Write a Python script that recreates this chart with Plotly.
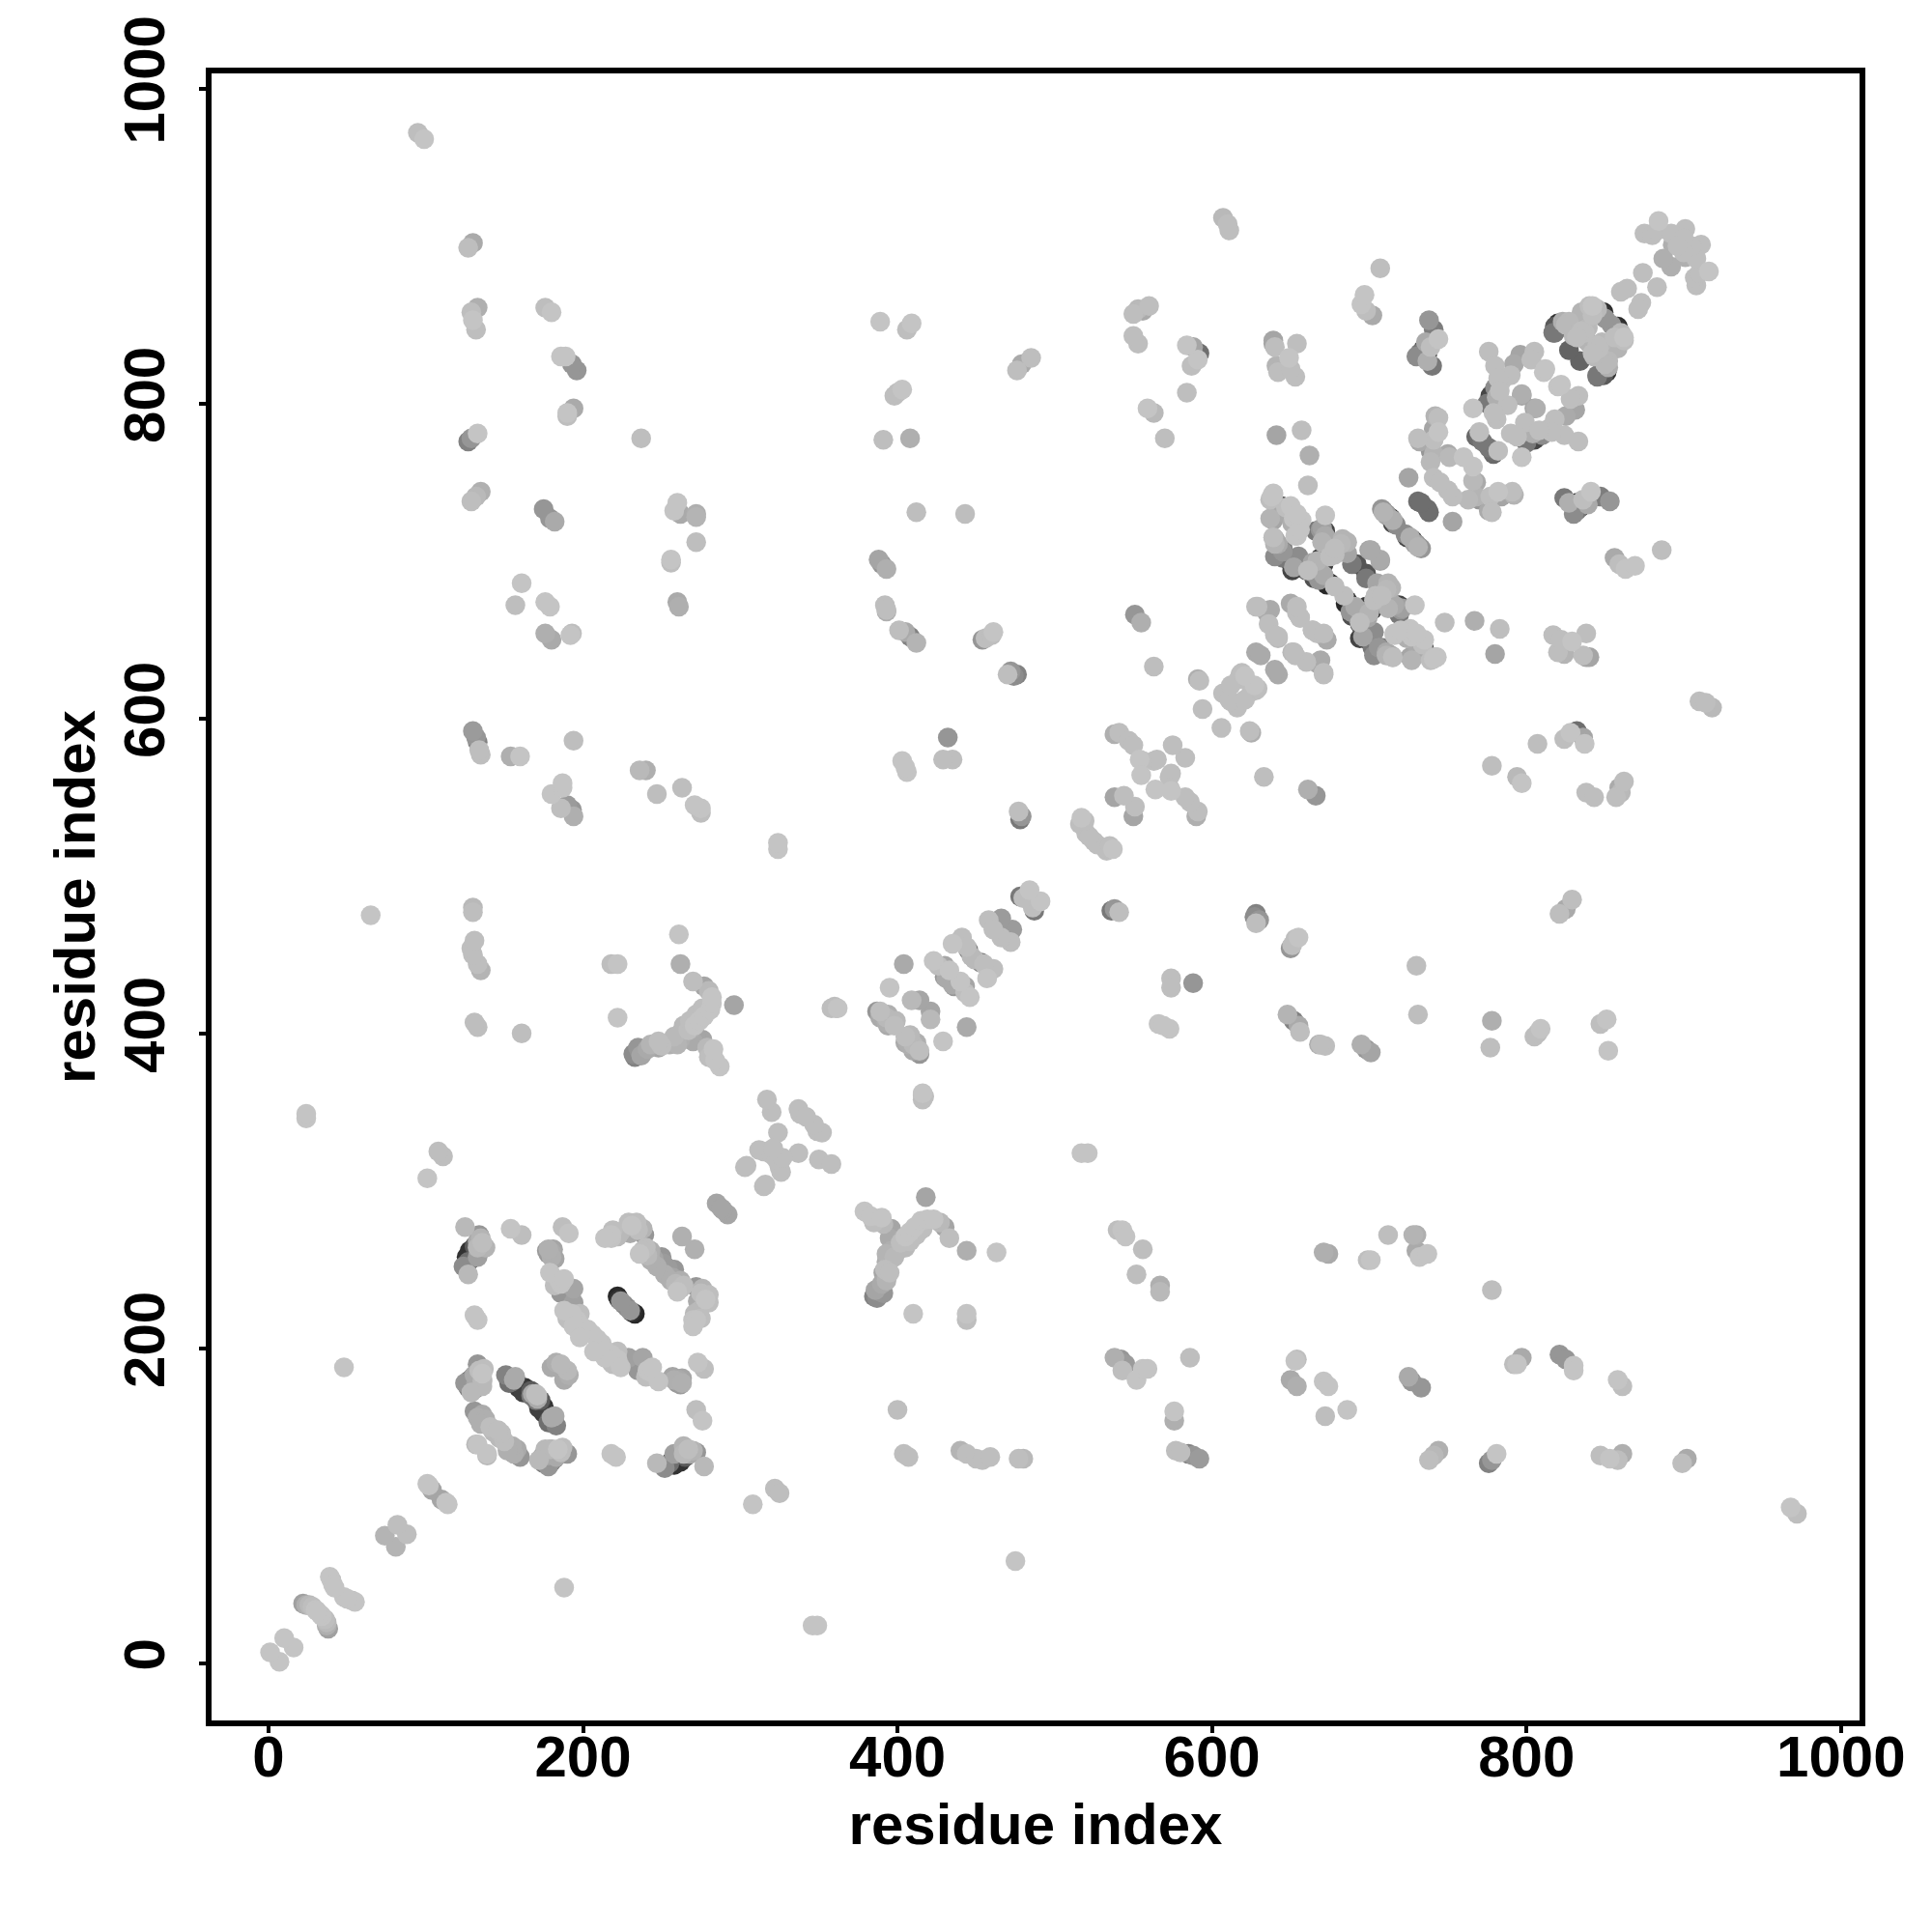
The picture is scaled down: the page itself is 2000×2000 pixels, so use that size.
import plotly.graph_objects as go

tick_values = [0, 200, 400, 600, 800, 1000]
axis_label = "residue index"

# (residue i, residue j, score); the map is symmetric, one half is stored
low_diagonal = [(7,1,196),(16,10,196),(38,22,160),(37,24,175),(37,26,185),(36,28,190),(34,30,196),(33,31,196),
 (55,39,196),(53,40,190),(50,41,196),(48,42,196),(81,74,180),(88,82,190),(114,101,196),(113,102,196),(110,104,165)]
block_130_290 = [(139,132,185),(139,133,196),(160,131,150),(156,133,175),(155,138,175),(150,141,190),(147,144,185),
 (175,127,120),(176,128,100),(177,130,130),(178,132,165),(179,136,185),(184,136,196),(186,134,190),(190,133,150),
 (180,153,100),(179,155,110),(178,158,50),(176,160,55),(175,163,50),(173,167,90),(180,156,170),(171,170,190),
 (191,183,175),(188,180,170),(190,186,185),(218,133,196),(221,131,196),
 (247,127,185),(254,126,40),(255,127,110),(256,128,35),(259,130,40),(262,134,60),(267,136,190),(272,134,150),(277,125,185),(264,133,185),
 (233,222,40),(230,224,150),(231,223,50),(226,228,140),
 (219,190,190),(218,196,196),(212,203,196),(209,206,196),(214,199,196),(218,191,190),
 (232,192,145),(236,190,140),(241,186,196),(243,185,196),(248,179,196),
 (258,180,175),(262,177,155),(273,191,196),(277,187,190),(272,161,190),(276,154,196),
 (271,263,176),(263,178,176),(261,180,170),
 (260,236,196),(259,241,185),(257,245,165),(256,248,150),(254,251,155),
 (278,231,196),(275,235,190),(272,239,150),(277,234,170),(274,224,185),(272,218,196),(270,214,196),
 (292,285,165),(289,288,165)]
block_thick = [(262,128,50),(265,131,90),(268,133,170),(270,135,180),(258,126,50),(252,124,140),(258,133,160),(264,138,180),
 (180,128,110),(182,130,140),(180,136,175),(176,136,185),(174,131,150),(183,131,170),(187,137,190),(172,129,185),(178,125,150),
 (175,159,60),(172,162,65),(170,167,120),(178,153,110),(182,157,170),(183,151,130),(168,171,170),
 (148,146,190),(143,147,185),(152,135,175),(158,136,170),
 (222,193,196),(224,188,196),(214,194,196),(207,198,196),(222,198,190),
 (238,194,165),(244,188,196),(240,182,190),(235,186,150),(229,194,160),
 (262,243,175),(264,240,190),(258,250,150),(252,247,175),(256,243,175),(262,238,190),
 (280,229,190),(276,238,180),(273,230,170),(280,234,190),(271,222,185),(275,219,190),(270,218,195),
 (260,178,150),(257,182,165),(263,181,165)]
far_low = [(188,48,196),(308,101,196),(322,111,190),(325,108,190),(346,24,196),(349,24,196),(475,65,196)]
diag_300 = [(349,338,190),(350,320,190),(358,317,190),(337,324,190),(325,315,190),(326,312,190),(315,303,190),
 (320,323,190),(327,321,190),(316,304,190),(352,337,190),(347,342,190)]
y_shape = [(379,287,196),(383,284,196),(386,282,190),(391,279,185),(396,276,165),(400,267,160),(396,262,175),(393,260,180),
 (393,255,175),(392,250,190),(391,248,165),(390,241,170),(389,236,150),(387,232,140),(403,269,175),(402,267,190),
 (405,271,196),(408,274,196),(411,277,196),(415,281,196),(419,282,196),(423,282,196),(427,280,185),(430,277,165),(433,270,190),
 (418,296,165),(444,262,175),(463,261,196),
 (385,280,190),(390,283,196),(395,270,170),(398,272,165),(400,262,170),(405,264,185),(408,268,190),(412,272,190),(416,276,190),
 (395,256,170),(398,258,185),(395,248,190),(393,243,180),(386,237,165),(391,235,150),(385,233,130)]
row_130 = [(410,222,196),(444,222,196),(444,218,190),(400,161,190),(404,133,190),(407,131,190),(440,135,180),(444,133,190),
 (450,130,190),(454,129,190),(459,131,190),(477,130,190),(480,130,185),
 (540,275,190),(543,275,196),(545,271,196),(556,263,190),(552,247,190),(567,240,175),(567,236,185),(671,261,175),(674,260,170),
 (538,194,175),(542,193,150),(545,190,155),(543,186,190),(552,180,196),(556,187,196),(559,187,196),(586,194,190),
 (576,160,196),(576,154,175),(577,135,190),(580,134,190),(585,133,130),(588,132,150),(592,130,155),
 (654,193,190),(653,192,196),(650,180,170),(654,176,175),(671,179,196),(674,176,196),(672,157,190),(686,161,196)]
right_low = [(712,272,190),(728,272,180),(730,272,175),(730,262,170),(732,258,196),(737,260,196),(699,256,190),(701,256,196),
 (778,237,190),(725,182,170),(727,179,150),(733,175,150),(797,194,170),(794,190,196),(792,190,190),
 (821,196,150),(825,193,150),(830,189,196),(830,186,196),(858,180,196),(861,176,190),
 (738,129,190),(741,132,185),(744,135,176),(776,127,130),(778,129,150),(781,133,196),
 (847,132,190),(853,130,196),(858,129,190),(861,133,175),(899,127,190),(902,130,170),(968,99,196),(972,95,190)]
mid_field = [(627,474,140),(630,472,150),(628,470,190),(628,476,130),(651,456,190),(653,460,190),(655,461,196),(650,454,150),
 (574,435,190),(574,429,190),(588,432,150),(566,406,196),(573,403,196),(569,405,196),
 (648,412,180),(652,408,130),(655,405,170),(656,401,190),(668,393,175),(672,392,190),(669,393,190),
 (517,324,196),(521,324,196),(416,361,190),(417,360,190),(362,416,196),(358,416,190),
 (536,478,120),(538,479,150),(541,477,190),
 (698,390,150),(695,393,175),(701,388,165),(730,443,190),(731,412,190),(778,408,175),(777,391,190),
 (809,403,196),(805,398,190),(807,400,190),(851,409,196),(847,406,190),(852,389,196),
 (829,485,190),(825,479,170),(821,476,190)]
diag_400 = [(414,389,190),(410,393,185),(405,398,190),(411,392,160),(414,387,150),(412,394,175),(408,399,185),(405,394,170),(410,389,170),(407,393,175),
 (421,414,165),(421,409,185),(429,395,196),(444,404,170),
 (446,423,196),(443,426,190),(440,433,196),(436,430,150),(443,430,165),(435,431,170),
 (461,441,190),(457,435,196),(453,445,120),(455,444,190),(449,447,185),
 (473,466,155),(472,458,190),(466,461,190),(491,484,196),(487,478,120),(486,480,190)]
diag_500 = [(527,520,190),(533,516,190),(537,517,196),(532,518,190),(525,522,190),(535,519,190),
 (591,541,190),(590,538,175),(586,547,190),(583,550,190),(574,554,196),(573,563,190),(583,575,190),(564,555,196),
 (551,544,190),(550,538,165),(574,565,190),(573,556,190),
 (628,618,190),(625,617,190),(616,607,190),(612,611,190),(606,594,190),(625,591,175),(621,612,190),(627,621,196),(624,592,190),(633,563,190),
 (666,551,150),(661,555,175)]
upper_field = [(778,570,190),(794,563,185),(797,559,196),(807,584,190),(824,587,190),(828,591,196),(832,592,110),(836,588,165),(837,584,196),
 (838,553,190),(843,550,190),(857,550,190),(860,553,185),(862,560,190),(859,556,170),(910,611,190),(914,610,190),(918,607,185),
 (780,641,165),(820,642,190),(824,641,180),(838,639,165),(840,639,165),(836,640,190),(817,653,190),(822,650,190),(829,649,196),(838,654,190),
 (783,657,190),(767,662,175),(748,661,190),(886,707,190),(856,702,170),(859,698,190),(863,695,196),(869,697,196)]
diag_640 = [(673,650,170),(671,628,190),(667,654,190),(660,636,190),(656,664,190),(671,654,190),(651,642,185),(642,628,170),
 (653,640,190),(667,635,170),(671,629,190),(640,631,170),(629,619,190),(664,656,185),(652,642,190),(669,637,170)]
band_700 = [(743,639,196),(734,642,170),(726,639,165),(714,640,170),(706,645,110),(699,650,50),(694,660,85),(699,671,50),(685,673,40),
 (698,689,120),(705,686,165),(714,683,180),(714,673,40),(720,669,150),(729,672,196),(710,674,55),(698,671,55),(702,669,55),
 (686,675,40),(695,668,40),(698,652,70),(702,645,120),(715,639,190),(708,645,120),(726,657,196),(742,639,196),
 (741,638,196),(734,647,190),(724,651,175),(716,653,196),(703,655,140),(698,692,85),(707,700,165),(712,686,180),(712,676,170),(718,671,55),
 (727,652,196),(716,654,196),(731,709,180),(727,714,55),(723,717,140),(724,715,70),(728,713,55),(732,709,150),(707,701,170),
 (704,676,90),(689,665,80),(703,640,140),(711,640,180),(720,656,196)]
band_overlay = [(729,711,165),(733,708,150),(726,715,175),(730,711,150),(684,678,190),(704,678,190),(703,675,190),(700,667,180),(696,668,160),
 (716,672,170),(721,670,160),(694,651,68),(700,651,120),(706,645,150),(711,642,170),(715,639,170),(730,641,50),(727,637,180),(733,648,165),
 (731,644,170),(704,645,85),(696,652,165),(694,661,190),(692,665,130),(735,642,120),(735,650,196),(730,654,196),
 (735,644,85),(732,646,100),(719,672,68),(719,666,120),(688,668,150),(708,678,190),(711,682,185),(691,671,170),(699,664,165),(712,670,180),(739,637,190)]
band_770 = [(753,725,165),(738,731,110),(737,733,110),(792,742,180),(791,744,190),(782,744,196),(777,741,190),(770,739,150),(763,739,185),
 (778,731,190),(776,732,170),(766,760,196),(768,750,170),(753,741,190),(750,745,190),(768,741,180),(766,751,185),(784,741,165),
 (778,770,110),(776,772,120),(779,768,105),(833,776,190),(831,796,165),(833,805,190),(824,780,190),(814,784,190),(806,778,60),
 (820,811,196),(825,792,170),(806,797,175),(822,812,196),(797,766,196),(805,777,70),(790,781,190),(805,797,165),(799,788,190),
 (810,780,140),(800,775,120),(828,803,190),(818,790,190),(816,782,190),(794,779,190),(782,770,190),(808,783,190),(804,781,175)]
ring_840 = [(858,849,40),(862,842,196),(857,838,170),(853,833,165),(852,827,185),(851,820,50),(845,817,120),(854,850,150),(858,848,50),
 (834,827,100),(845,837,190),(862,840,190),(860,845,185),(858,835,180),(849,818,90),(852,823,175),(850,825,185),(846,835,190),
 (840,838,180),(843,830,185),(842,832,190),(853,738,150),(847,741,125),(841,744,196),(834,734,40),(832,737,40),
 (839,736,170),(824,740,120),(832,732,120),(836,739,190),(830,730,140),(827,737,175),(845,818,120),(848,839,185),(856,842,190)]
top_cluster = [(883,874,190),(873,864,190),(871,860,190),(916,884,196),(908,875,190),(907,880,190),(910,883,190),(911,901,190),
 (908,892,190),(901,893,175),(892,887,175),(905,900,190),(900,896,190)]

regions = [low_diagonal, block_130_290, block_thick, far_low, diag_300, y_shape, row_130, right_low, mid_field, diag_400,
           diag_500, upper_field, diag_640, band_700, band_overlay, band_770, ring_840, top_cluster]
contacts = sorted((c for r in regions for c in r), key=lambda c: c[2])
res_i = [c[0] for c in contacts]
res_j = [c[1] for c in contacts]
score = [c[2] for c in contacts]

# both halves of the symmetric map, darkest first so the light discs lie on top
xs, ys, cs = [], [], []
for a, b, s in zip(res_i, res_j, score):
    xs += [a, b]
    ys += [b, a]
    cs += [s, s]

fig = go.Figure(go.Scatter(
    x=xs, y=ys, mode="markers",
    marker=dict(size=20.5, color=cs, cmin=0, cmax=255,
                colorscale=[[0, "#000000"], [1, "#ffffff"]], line=dict(width=0)),
    showlegend=False, hoverinfo="skip"))

font = dict(family="Liberation Sans", size=60, color="black", weight=700)
common = dict(tickvals=tick_values, ticks="outside", ticklen=7, tickwidth=4, tickcolor="black",
              showline=True, mirror=True, linecolor="black", linewidth=6,
              showgrid=False, zeroline=False, tickfont=font, automargin=False)
fig.update_xaxes(range=[-36.2, 1011.8], ticklabelstandoff=-27, title=dict(text=axis_label, font=font, standoff=18), **common)
fig.update_yaxes(range=[-36.3, 1009.7], tickangle=-90, ticklabelstandoff=12, title=dict(text=axis_label, font=font, standoff=0), **common)
fig.update_layout(width=2000, height=2000, margin=dict(l=211, r=83, t=68, b=227),
                  paper_bgcolor="white", plot_bgcolor="white")
fig.write_html("out.html")
